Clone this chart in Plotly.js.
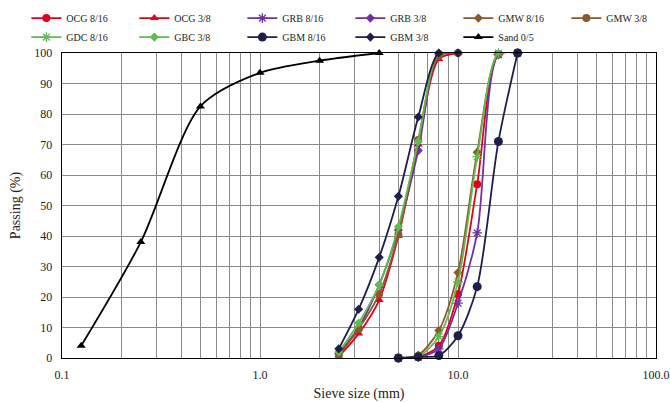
<!DOCTYPE html>
<html>
<head>
<meta charset="utf-8">
<script src="https://cdn.plot.ly/plotly-3.0.1.min.js"></script>
<style>html,body{margin:0;padding:0;background:#fff;}#chart{width:670px;height:402px;}</style>
</head>
<body>
<div id="chart"></div>
<script>
// Sieve sizes (mm)
const sizesSand = [0.125, 0.25, 0.5, 1, 2, 4];
const sizes38 = [2.5, 3.15, 4, 5, 6.3, 8, 10];
const sizes816 = [5, 6.3, 8, 10, 12.5, 16, 20];

// Passing (%)
const ocg816 = [0, 0.3, 4, 21, 57, 99.5, 100];
const ocg38  = [0.5, 8, 19, 40, 70, 98, 100];
const grb816 = [0, 0.3, 3, 18, 41, 99.5, 100];
const grb38  = [1.5, 10, 24, 42, 68, 99.5, 100];
const gmw816 = [0, 1, 9, 28, 67.5, 99.5, 100];
const gmw38  = [1, 9.5, 21, 40.5, 71.5, 99, 100];
const gdc816 = [0, 0.5, 7, 25, 66, 100, 100];
const gbc38  = [2, 11.5, 24, 43, 71, 100, 100];
const gbm816 = [0, 0.4, 0.8, 7.3, 23.4, 71, 100];
const gbm38  = [3, 16, 33, 53, 79, 100, 100];
const sand05 = [4, 38, 82.5, 93.5, 97.5, 100];

// Axis ticks / grid
const gridVals = [0.1,0.2,0.3,0.4,0.5,0.6,0.7,0.8,0.9,1,2,3,4,5,6,7,8,9,10,20,30,40,50,60,70,80,90,100];
const decadeLabels = {0.1:'0.1', 1:'1.0', 10:'10.0', 100:'100.0'};
const gridText = gridVals.map(v => decadeLabels[v] || '');

const RED = '#E2001A', PURPLE = '#7030A0', BROWN = '#8E562B', GREEN = '#5DBB4F', NAVY = '#1E1E4B', BLACK = '#000000';

function tr(name, x, y, color, symbol, size) {
  const asterisk = symbol.indexOf('asterisk') === 0;
  return {
    type: 'scatter', mode: 'lines+markers', name: name, x: x, y: y, cliponaxis: false,
    line: {color: color, width: 1.8, shape: 'spline', smoothing: 0.8},
    marker: {color: color, symbol: symbol, size: size,
             line: {color: color, width: asterisk ? 1.3 : 0}}
  };
}

const data = [
  tr('OCG 8/16', sizes816, ocg816, RED, 'circle', 8),
  tr('OCG 3/8', sizes38, ocg38, RED, 'triangle-up', 8),
  tr('GRB 8/16', sizes816, grb816, PURPLE, 'asterisk-open', 8),
  tr('GRB 3/8', sizes38, grb38, PURPLE, 'diamond', 7),
  tr('GMW 8/16', sizes816, gmw816, BROWN, 'diamond', 7),
  tr('GMW 3/8', sizes38, gmw38, BROWN, 'circle', 8),
  tr('GDC 8/16', sizes816, gdc816, GREEN, 'asterisk-open', 8),
  tr('GBC 3/8', sizes38, gbc38, GREEN, 'diamond', 7),
  tr('GBM 8/16', sizes816, gbm816, NAVY, 'circle', 9),
  tr('GBM 3/8', sizes38, gbm38, NAVY, 'diamond', 7),
  tr('Sand 0/5', sizesSand, sand05, BLACK, 'triangle-up', 8)
];

const FONT = 'Liberation Serif, DejaVu Serif, serif';
const layout = {
  width: 670, height: 402,
  margin: {l: 62, r: 14, t: 53, b: 44, pad: 0, autoexpand: false},
  paper_bgcolor: '#fff', plot_bgcolor: '#fff',
  font: {family: FONT, size: 12, color: '#222'},
  showlegend: true,
  legend: {
    orientation: 'h', x: -0.06, xanchor: 'left', y: 1.162, yanchor: 'top',
    entrywidth: 63, entrywidthmode: 'pixels', itemwidth: 30,
    font: {family: FONT, size: 10, color: '#222'}, tracegroupgap: 0,
    bgcolor: 'rgba(0,0,0,0)'
  },
  xaxis: {
    type: 'log', range: [-1, 2], tickmode: 'array', tickvals: gridVals, ticktext: gridText,
    showgrid: true, gridcolor: '#8a8a8a', gridwidth: 1, zeroline: false,
    showline: true, mirror: true, linecolor: '#000', linewidth: 1.3, ticks: '',
    ticklabelstandoff: 5,
    tickfont: {family: FONT, size: 12, color: '#222'},
    title: {text: 'Sieve size (mm)', font: {family: FONT, size: 14, color: '#222'}, standoff: 12}
  },
  yaxis: {
    range: [0, 100], dtick: 10, tick0: 0,
    showgrid: true, gridcolor: '#8a8a8a', gridwidth: 1, zeroline: false,
    showline: true, mirror: true, linecolor: '#000', linewidth: 1.3, ticks: '',
    ticklabelstandoff: 6,
    tickfont: {family: FONT, size: 12, color: '#222'},
    title: {text: 'Passing (%)', font: {family: FONT, size: 14, color: '#222'}, standoff: 10}
  }
};

Plotly.newPlot('chart', data, layout, {displayModeBar: false, staticPlot: true});
</script>
</body>
</html>
